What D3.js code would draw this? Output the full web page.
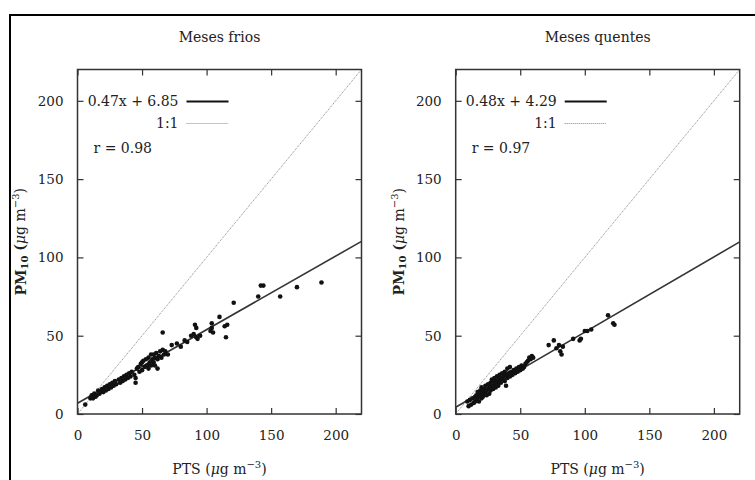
<!DOCTYPE html>
<html>
<head>
<meta charset="utf-8">
<script src="https://cdn.jsdelivr.net/npm/d3@7"></script>
<style>
  body { margin: 0; background: #fff; }
  svg text { font-family: "DejaVu Serif", "Liberation Serif", serif; fill: #222; }
</style>
</head>
<body>
<div id="chart"></div>
<script>
const WIDTH = 755, HEIGHT = 480;

// data
const titles = ["Meses frios", "Meses quentes"];
const ticks = [0, 50, 100, 150, 200];
const fitLabels = ["0.47x + 6.85", "0.48x + 4.29"];
const slopes = [0.47, 0.48];
const intercepts = [6.85, 4.29];
const rLabels = ["r = 0.98", "r = 0.97"];

// [PTS, PM10]
const friosPoints = [
  [6,6],[10,10],[11,12],[12,10],[13,13],[14,11],[15,12],[16,15],[17,13],[18,14],[19,16],[20,14],[21,17],[22,15],
  [23,18],[24,16],[25,19],[26,17],[27,20],[28,18],[29,21],[30,19],[32,22],[33,20],[34,23],[35,21],[36,24],[37,22],
  [38,25],[39,23],[40,26],[41,24],[42,27],[44,25],[45,20],[45,23],[46,29],
  [47,30],[48,27],[49,32],[50,33],[50,28],[51,34],[52,30],[53,35],[54,31],[55,29],[55,36],[56,33],[57,31],[57,38],
  [58,35],[59,33],[59,38],[60,36],[60,31],[61,39],[62,29],[62,35],[63,37],[64,40],[65,36],[66,41],[66,52],[67,38],
  [68,40],[70,38],
  [73,44],[77,45],[80,43],[83,47],[85,46],[88,50],[90,51],[91,57],[92,55],[92,49],[93,48],[95,50],[103,53],[104,55],
  [104,58],[105,52],[110,62],[114,56],[115,49],[116,57],[121,71],
  [140,75],[142,82],[144,82],[157,75],[170,81],[189,84]
];
const quentesPoints = [
  [9,8],[10,5],[11,9],[12,6],[13,10],[14,7],[15,11],[15,8],[16,12],[16,9],[17,14],[17,10],[18,12],[18,8],[19,15],
  [19,11],[20,17],[20,13],[20,10],[21,14],[21,11],[22,16],[22,12],[23,18],[23,14],[24,15],[24,12],[25,19],[25,16],
  [26,17],[26,13],[27,20],[27,15],[28,18],[28,22],[29,16],[29,21],[30,19],[30,23],[31,17],[31,21],[32,20],[32,24],
  [33,18],[33,22],[34,21],[34,25],[35,20],[35,23],[36,22],[36,26],[37,24],[38,21],[38,27],[39,18],[39,25],[40,23],
  [40,29],[41,26],[42,24],[42,30],[43,27],[44,25],[45,28],[46,26],[47,29],[48,27],[49,30],[50,28],[51,31],[52,29],
  [53,30],[54,32],[55,33],[56,34],[57,36],[58,35],[59,37],[60,36],
  [72,44],[76,47],[78,42],[80,44],[81,40],[82,38],[83,43],[91,48],[96,47],[97,48],[100,53],[102,53],[105,54],
  [118,63],[122,58],[123,57]
];
const panelPoints = [friosPoints, quentesPoints];

const lefts = [77.5, 455.7];
const panelTop = 69.5, W = 284, H = 344.5;

const svg = d3.select("#chart").append("svg")
  .attr("width", WIDTH).attr("height", HEIGHT);

// outer frame (runs off the right and bottom edges)
svg.append("rect")
  .attr("x", 10).attr("y", 15)
  .attr("width", 760).attr("height", 480)
  .attr("fill", "none").attr("stroke", "#000").attr("stroke-width", 2);

titles.forEach((title, i) => {
  const g = svg.append("g").attr("transform", `translate(${lefts[i]},${panelTop})`);

  const x = d3.scaleLinear().domain([0, 220]).range([0, W]);
  const y = d3.scaleLinear().domain([0, 220]).range([H, 0]);

  // inward ticks on all four sides
  const tickStyle = sel => {
    sel.attr("font-family", null);
    sel.select(".domain").remove();
    sel.selectAll(".tick line").attr("stroke", "#333").attr("stroke-width", 1.2);
    sel.selectAll(".tick text").attr("font-size", 13.5).attr("fill", "#222");
  };
  g.append("g").attr("transform", `translate(0,${H})`)
    .call(d3.axisBottom(x).tickValues(ticks).tickSize(-6).tickPadding(16))
    .call(tickStyle);
  g.append("g")
    .call(d3.axisTop(x).tickValues(ticks).tickSize(-6).tickFormat(""))
    .call(tickStyle);
  g.append("g")
    .call(d3.axisLeft(y).tickValues(ticks).tickSize(-6).tickPadding(14))
    .call(tickStyle);
  g.append("g").attr("transform", `translate(${W},0)`)
    .call(d3.axisRight(y).tickValues(ticks).tickSize(-6).tickFormat(""))
    .call(tickStyle);

  // 1:1 line
  g.append("line")
    .attr("x1", x(0)).attr("y1", y(0)).attr("x2", x(220)).attr("y2", y(220))
    .attr("stroke", "#888").attr("stroke-width", 1).attr("stroke-dasharray", "1,1");

  // fit line
  const f = v => slopes[i] * v + intercepts[i];
  g.append("line")
    .attr("x1", x(0)).attr("y1", y(f(0))).attr("x2", x(220)).attr("y2", y(f(220)))
    .attr("stroke", "#333").attr("stroke-width", 1.6);

  // points
  g.selectAll(".pt").data(panelPoints[i]).join("circle")
    .attr("class", "pt")
    .attr("cx", d => x(d[0])).attr("cy", d => y(d[1]))
    .attr("r", 2.3).attr("fill", "#111");

  // plot border
  g.append("rect").attr("width", W).attr("height", H)
    .attr("fill", "none").attr("stroke", "#333").attr("stroke-width", 1.5);

  // legend
  g.append("text").attr("x", 101).attr("y", 32).attr("dy", "0.35em")
    .attr("text-anchor", "end").attr("font-size", 14).text(fitLabels[i]);
  g.append("line").attr("x1", 109).attr("x2", 151).attr("y1", 32).attr("y2", 32)
    .attr("stroke", "#111").attr("stroke-width", 1.8);
  g.append("text").attr("x", 101).attr("y", 54).attr("dy", "0.35em")
    .attr("text-anchor", "end").attr("font-size", 14).text("1:1");
  g.append("line").attr("x1", 109).attr("x2", 151).attr("y1", 54).attr("y2", 54)
    .attr("stroke", "#888").attr("stroke-width", 1).attr("stroke-dasharray", "1,1");
  g.append("text").attr("x", 16).attr("y", 79).attr("dy", "0.35em")
    .attr("font-size", 14).text(rLabels[i]);

  // title
  g.append("text").attr("x", W / 2).attr("y", -32).attr("dy", "0.35em")
    .attr("text-anchor", "middle").attr("font-size", 14).text(title);

  // x label
  const xl = g.append("text").attr("x", W / 2).attr("y", H + 55)
    .attr("dy", "0.35em").attr("text-anchor", "middle").attr("font-size", 14);
  xl.append("tspan").text("PTS (");
  xl.append("tspan").attr("font-style", "italic").text("μ");
  xl.append("tspan").text("g m");
  xl.append("tspan").attr("font-size", 10).attr("dy", "-0.6em").text("−3");
  xl.append("tspan").attr("dy", "0.42em").text(")");

  // y label
  const yl = g.append("text")
    .attr("transform", `translate(-52,${H / 2}) rotate(-90)`)
    .attr("text-anchor", "middle").attr("font-size", 14);
  yl.append("tspan").attr("font-weight", "bold").text("PM");
  yl.append("tspan").attr("font-weight", "bold").attr("font-size", 10).attr("dy", "0.25em").text("10");
  yl.append("tspan").attr("font-weight", "bold").attr("dy", "-0.18em").text(" (");
  yl.append("tspan").attr("font-style", "italic").text("μ");
  yl.append("tspan").text("g m");
  yl.append("tspan").attr("font-size", 10).attr("dy", "-0.6em").text("−3");
  yl.append("tspan").attr("dy", "0.42em").text(")");
});
</script>
</body>
</html>
